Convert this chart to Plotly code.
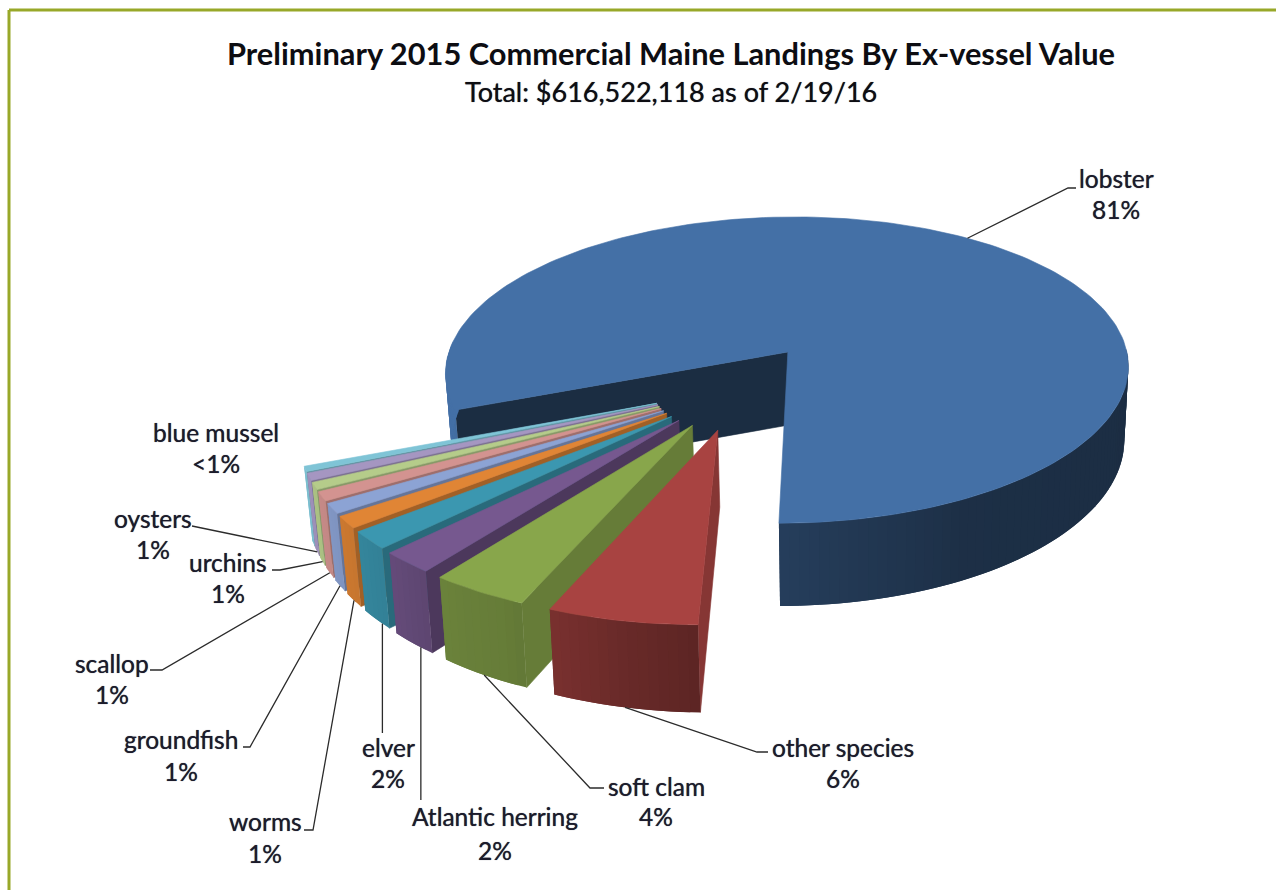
import numpy as np
import plotly.graph_objects as go

# Landings by species, share of ex-vessel value (percent)
species = ["lobster", "other species", "soft clam", "Atlantic herring", "elver", "worms",
           "groundfish", "scallop", "urchins", "oysters", "blue mussel"]
share = [81.0, 6.0, 4.0, 2.2, 1.8, 1.2, 1.0, 0.9, 0.7, 0.7, 0.5]
share_labels = ["81%", "6%", "4%", "2%", "2%", "1%", "1%", "1%", "1%", "1%", "<1%"]

top_colors = ["#4470A6", "#A84341", "#88A64B", "#76588F", "#3B97B0", "#E08535",
              "#8CA3D4", "#D39390", "#B5CC8A", "#A596C1", "#7FC4D6"]
wall_shade = [0.40, 0.80, 0.75, 0.64, 0.70, 0.72, 0.72, 0.75, 0.75, 0.75, 0.75]

# Pixel centres of the two text lines of every label
name_pos = [(1116, 178), (843, 747), (656, 786), (495, 816), (388, 747), (265, 821),
            (181, 739), (112, 663), (228, 562), (153, 518), (216, 432)]
pct_pos = [(1116, 209), (843, 778), (656, 816), (495, 850), (388, 778), (265, 853),
           (181, 771), (112, 694), (228, 593), (153, 549), (216, 463)]
# Leader routes after leaving the slice; None keeps the x of the slice anchor
leader_route = [[(1068, 188), (1076, 188)], [(757, 752), (768, 752)], [(590, 788), (604, 788)],
                [(None, 800)], [(None, 733)], [(313, 830), (304, 830)], [(250, 747), (243, 747)],
                [(162, 670), (150, 670)], [(280, 570), (272, 570)], [(195, 526), (192, 526)], []]
# Where along each slice's arc its leader attaches (0 first edge, 1 last edge)
leader_anchor = [0.5, 0.5, 0.5, 0.3, 0.27, 0.5, 0.5, 0.5, 0.5, 0.5, 0.5]

# 3D pie camera model
VX, VY = 855.0, 352.0
RX, RY, DEPTH = 339.0, 151.0, 73.0
PERSP = 0.118
ORIGIN_X = -0.198
EXPLODE_X, EXPLODE_Y = 0.245, 0.27
DOWN_CONVERGE = 0.015
DEPTH_FALLOFF = 0.05
LABEL_FONT = "Lato"
SOFT = "0 0 0.7px rgba(20,20,40,0.85)"


def project(x, y, down=0.0):
    x = np.asarray(x) + ORIGIN_X
    w = 1 - PERSP * np.asarray(y)
    sx = VX + RX * x / w * (1 - DOWN_CONVERGE * down)
    depth = DEPTH * down * (1 + DEPTH_FALLOFF * np.minimum(x + 0.2, 0))
    return sx, VY + (RY * np.asarray(y) + depth) / w


def unit(theta_deg):
    t = np.radians(theta_deg)
    return np.sin(t), -np.cos(t)


def shaded(color, f):
    r, g, b = (int(color[i:i + 2], 16) for i in (1, 3, 5))
    return f"rgb({r * f:.0f},{g * f:.0f},{b * f:.0f})"


def rim_factor(theta_deg):
    return np.interp(theta_deg % 360, [90, 150, 180, 190, 205, 215, 225, 240, 255, 270],
                     [0.40, 0.42, 0.55, 0.62, 0.75, 0.78, 0.86, 0.93, 1.0, 1.0])


fig = go.Figure()


def polygon(xs, ys, color, edge=0.6):
    fig.add_trace(go.Scatter(x=list(xs), y=list(ys), mode="lines", fill="toself", fillcolor=color,
                             line=dict(color=color, width=edge), hoverinfo="skip", showlegend=False))


# Slice angle ranges, clockwise from north; lobster ends due south and the rest follow it
degrees = np.array(share) * 3.6
starts = np.zeros(len(share))
ends = np.zeros(len(share))
starts[0], ends[0] = 180 - degrees[0], 180
for i in range(1, len(share)):
    starts[i] = ends[i - 1]
    ends[i] = starts[i] + degrees[i]
mids = (starts + ends) / 2

lob_dx, lob_dy = unit(mids[0])
apexes = []
for m in mids:
    ux, uy = unit(m)
    apexes.append((EXPLODE_X * (ux - lob_dx), EXPLODE_Y * (uy - lob_dy)))


def draw_slice(i):
    ax, ay = apexes[i]
    color = top_colors[i]
    th = np.linspace(starts[i], ends[i], max(int(degrees[i] / 1.5) + 2, 3))
    ux, uy = unit(th)
    ox, oy = ax + ux, ay + uy
    # cut face at the first edge of the slice
    ex, ey = unit(th[0])
    a_top = project(ax, ay)
    a_bot = project(ax, ay, 1)
    e_top = project(ax + ex, ay + ey)
    e_bot = project(ax + ex, ay + ey, 1)
    polygon([a_top[0], e_top[0], e_bot[0], a_bot[0], a_top[0]],
            [a_top[1], e_top[1], e_bot[1], a_bot[1], a_top[1]], shaded(color, wall_shade[i]))
    # outer rim, each strip overlaps the next so no seams show between shades
    for k in range(len(th) - 1):
        tm = (th[k] + th[k + 1]) / 2
        if -np.cos(np.radians(tm)) < -0.03:
            continue
        n = min(k + 2, len(th) - 1)
        x1, y1 = project(ox[k], oy[k])
        x2, y2 = project(ox[n], oy[n])
        x3, y3 = project(ox[n], oy[n], 1)
        x4, y4 = project(ox[k], oy[k], 1)
        polygon([x1, x2, x3, x4, x1], [y1, y2, y3, y4, y1], shaded(color, float(rim_factor(tm))), edge=0)
    # top face
    sx, sy = project(ox, oy)
    polygon([a_top[0], *sx, a_top[0]], [a_top[1], *sy, a_top[1]], color)


draw_slice(0)
for i in range(len(share) - 1, 0, -1):
    draw_slice(i)

# Leader lines start at the slice edge and run to their label
for i, route in enumerate(leader_route):
    if not route:
        continue
    ux, uy = unit(starts[i] + leader_anchor[i] * degrees[i])
    ax, ay = apexes[i]
    sx, sy = project(ax + ux, ay + uy, 0 if i == 0 else 1)
    sx, sy = float(sx), float(sy)
    xs = [sx] + [sx if p[0] is None else p[0] for p in route]
    ys = [sy] + [p[1] for p in route]
    fig.add_trace(go.Scatter(x=xs, y=ys, mode="lines", line=dict(color="#2b2b2b", width=1.3),
                             hoverinfo="skip", showlegend=False))

annotations = []
for i in range(len(species)):
    for text, (px, py) in ((species[i], name_pos[i]), (share_labels[i], pct_pos[i])):
        annotations.append(dict(x=px, y=py, xref="x", yref="y", text=text, showarrow=False,
                                xanchor="center", yanchor="middle",
                                font=dict(family=LABEL_FONT, size=24.5, color="#1b1b2b", shadow=SOFT)))
annotations.append(dict(x=671, y=53, xref="x", yref="y", showarrow=False,
                        text="<b>Preliminary 2015 Commercial Maine Landings By Ex-vessel Value</b>",
                        font=dict(family=LABEL_FONT, size=30.8, color="#0d0d12")))
annotations.append(dict(x=671, y=91, xref="x", yref="y", showarrow=False,
                        text="Total: $616,522,118 as of 2/19/16",
                        font=dict(family=LABEL_FONT, size=27, color="#0d0d12", shadow=SOFT)))

frame = "#98A829"
fig.update_layout(
    width=1276, height=890, margin=dict(l=0, r=0, t=0, b=0),
    paper_bgcolor="white", plot_bgcolor="white", showlegend=False,
    xaxis=dict(range=[0, 1276], visible=False, fixedrange=True),
    yaxis=dict(range=[890, 0], visible=False, fixedrange=True),
    annotations=annotations,
    shapes=[dict(type="line", x0=9, x1=1276, y0=10, y1=10, xref="x", yref="y", line=dict(color=frame, width=3)),
            dict(type="line", x0=9, x1=9, y0=10, y1=890, xref="x", yref="y", line=dict(color=frame, width=3))],
)

fig.write_html("out.html", config=dict(displayModeBar=False))
